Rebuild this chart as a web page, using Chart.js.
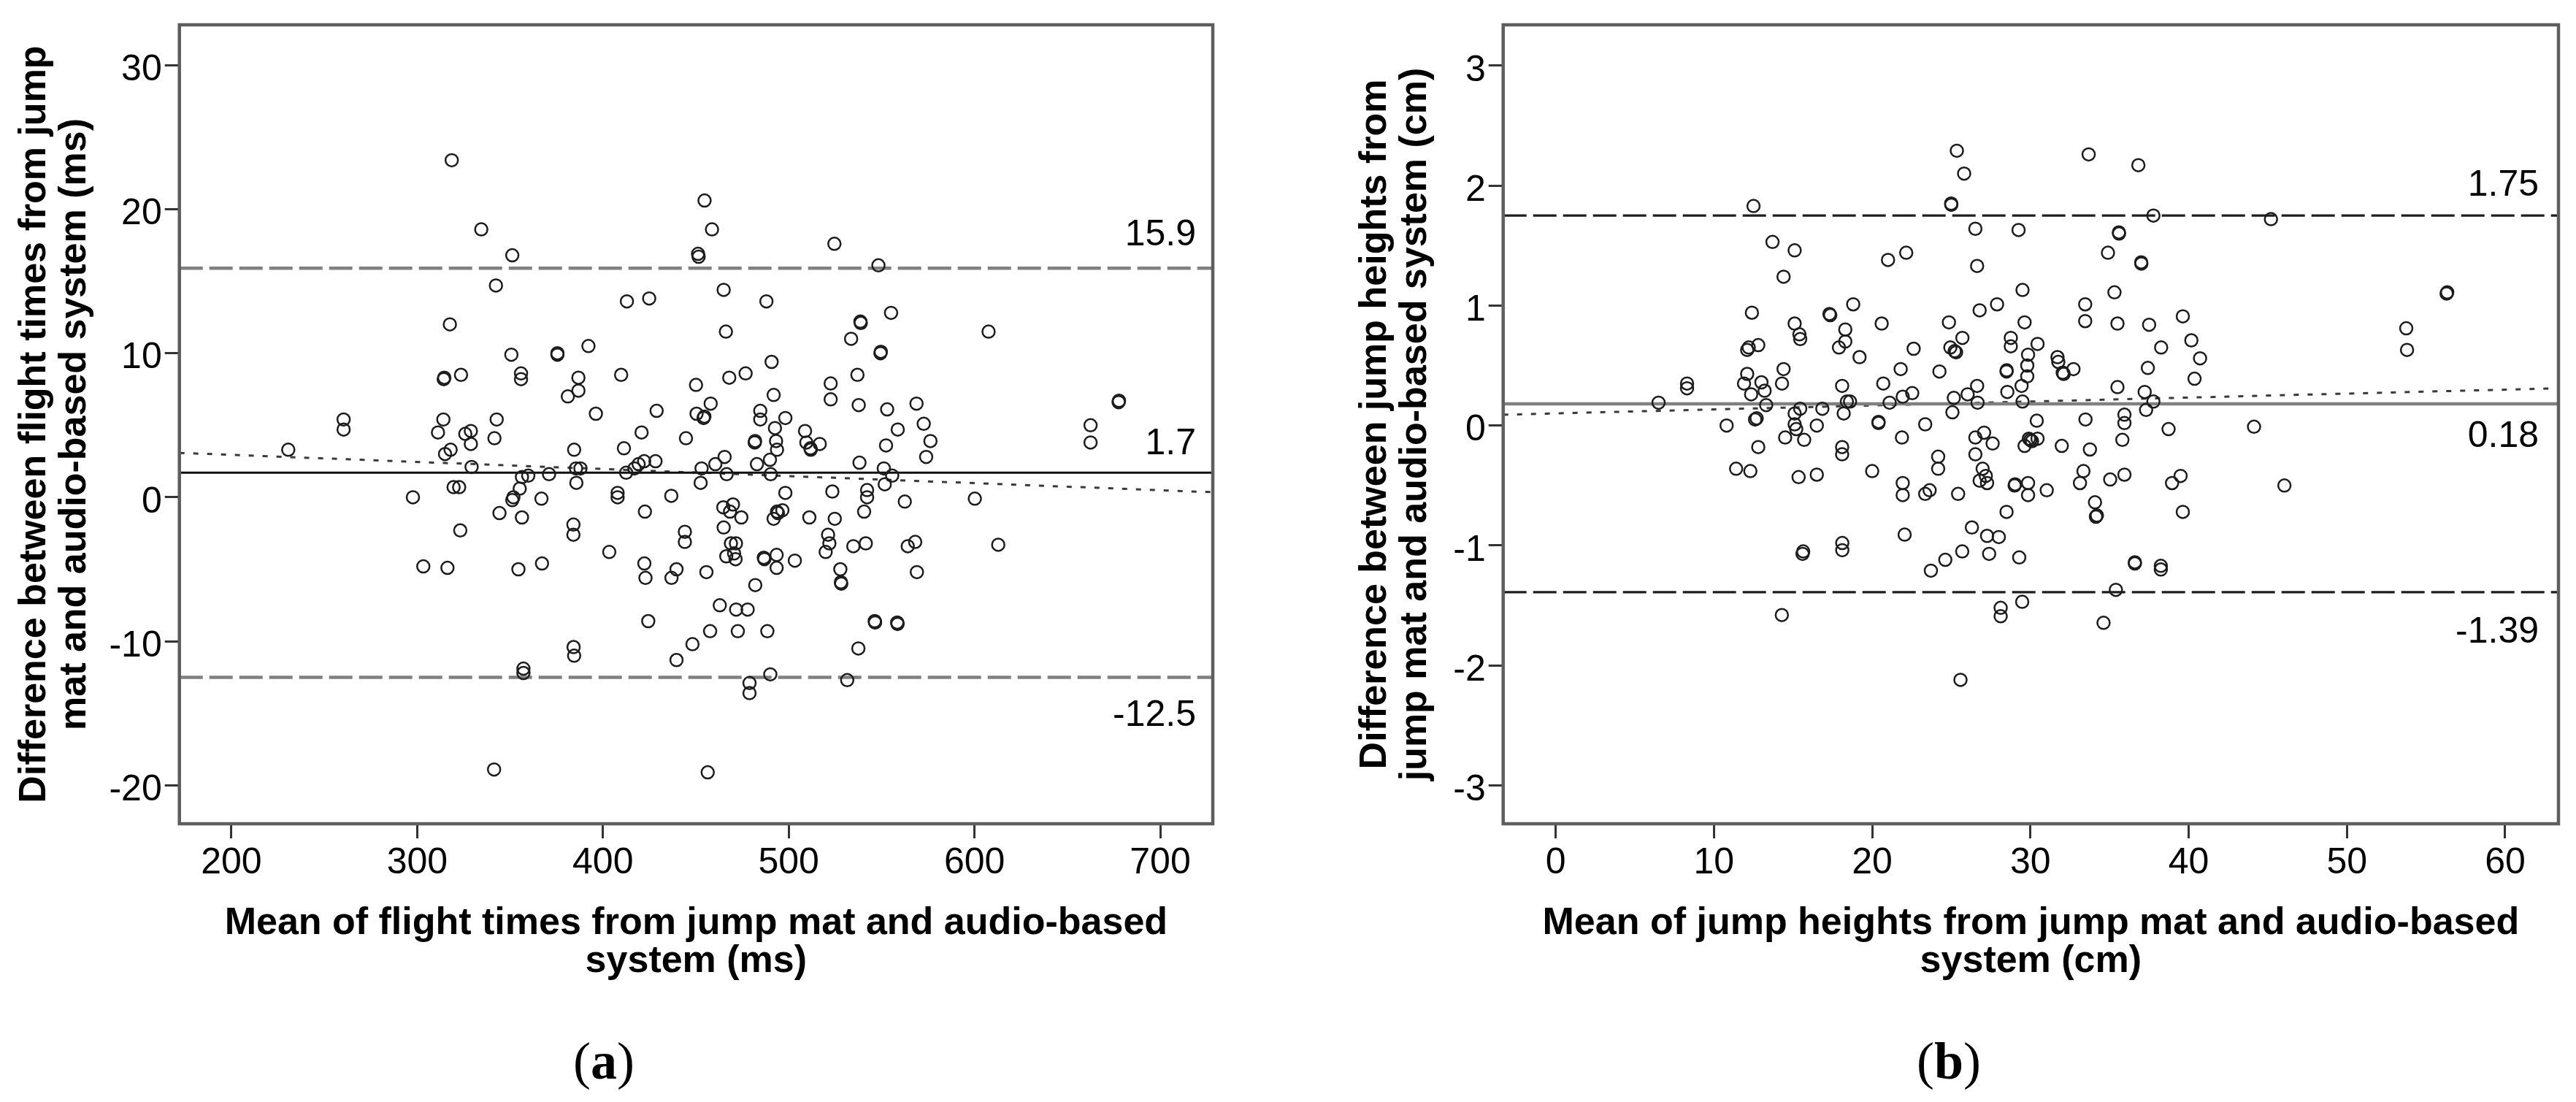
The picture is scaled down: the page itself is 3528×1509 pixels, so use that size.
<!DOCTYPE html>
<html><head><meta charset="utf-8">
<script src="https://cdn.jsdelivr.net/npm/chart.js@4.4.1/dist/chart.umd.min.js"></script>
<style>
html,body{margin:0;padding:0;background:#fff;}
#wrap{position:relative;width:3528px;height:1509px;overflow:hidden;background:#fff;}
canvas{position:absolute;top:0;}
.cap{position:absolute;top:1413px;font-family:"Liberation Serif","DejaVu Serif",serif;font-size:72px;line-height:80px;transform:translateX(-50%);color:#000;white-space:nowrap;}
.cap b{font-weight:bold;}
</style></head><body>
<div id="wrap">
<canvas id="ca" width="1764" height="1509" style="left:0"></canvas>
<canvas id="cb" width="1764" height="1509" style="left:1764px"></canvas>
<div class="cap" style="left:827px">(<b>a</b>)</div>
<div class="cap" style="left:2669px">(<b>b</b>)</div>
</div>
<script>
// ---------- DATA ----------
// (a) flight times: [mean, difference] in ms
const flightPoints = [
[230.6,3.3],[260.4,5.4],[260.4,4.7],[297.7,0.0],[318.6,23.4],[334.5,18.6],[351.2,16.8],[342.4,14.7],[317.6,12.0],[350.7,9.9],[314.6,8.3],[314.3,8.2],[323.6,8.5],[355.9,8.6],[355.9,8.2],[314.1,5.4],[311.2,4.5],[325.9,4.4],[328.9,4.6],[328.9,3.7],[342.8,5.4],[341.6,4.1],[318.0,3.3],[315.0,3.0],[329.3,2.1],[319.6,0.7],[322.6,0.7],[356.4,1.4],[359.8,1.5],[355.2,0.6],[351.8,0.0],[351.2,-0.2],[344.3,-1.1],[356.4,-1.4],[323.2,-2.3],[371.0,1.6],[366.9,-0.1],[375.5,9.9],[375.5,10.0],[386.8,8.3],[386.8,7.4],[381.1,7.0],[384.5,3.3],[387.9,2.0],[385.5,2.0],[385.7,1.0],[384.1,-1.9],[384.1,-2.6],
[392.2,10.5],[396.2,5.8],[454.7,20.6],[458.7,18.6],[451.5,16.7],[451.2,16.9],[524.6,17.6],[548.3,16.1],[465.0,14.4],[412.9,13.6],[424.9,13.8],[488.0,13.6],[466.2,11.5],[538.8,12.1],[538.6,12.2],[555.1,12.8],[533.6,11.0],[607.6,11.5],[549.4,10.0],[549.6,10.1],[490.8,9.4],[409.8,8.5],[468.0,8.3],[476.8,8.6],[537.0,8.5],[450.1,7.8],[522.6,7.9],[522.6,6.8],[491.9,7.1],[428.9,6.0],[458.0,6.5],[450.4,5.8],[454.2,5.5],[454.6,5.6],[484.7,6.0],[484.7,5.4],[498.2,5.5],[537.7,6.4],[553.0,6.1],[568.8,6.5],[420.8,4.5],[444.7,4.1],[492.6,4.8],[493.2,3.9],[493.7,3.3],[481.7,3.8],[481.9,3.9],[508.8,4.6],[509.5,3.8],[511.7,3.4],[511.9,3.3],[516.7,3.7],[558.7,4.7],[572.7,5.1],[576.3,3.9],[552.4,3.6],[574.0,2.8],[411.3,3.4],[419.2,2.3],[422.2,2.5],[428.3,2.5],[417.0,2.0],[412.5,1.7],[465.5,2.8],[460.5,2.3],[453.1,2.0],[466.6,1.6],[482.9,2.3],[489.9,2.6],[490.3,1.6],[538.1,2.4],[551.2,2.0],[555.7,1.5],[551.7,0.9],[452.6,1.0],[407.9,0.3],[407.9,0.0],[436.8,0.1],[498.2,0.3],[523.5,0.4],[542.2,0.5],[542.2,0.0],[562.5,-0.3],[600.2,-0.1],[422.6,-1.0],[464.8,-0.7],[470.0,-0.5],[468.4,-1.0],[474.5,-1.4],[493.7,-1.0],[494.2,-1.1],[496.6,-0.9],[491.9,-1.5],[511.1,-1.4],[524.8,-1.5],[540.6,-1.0],[444.1,-2.4],[444.1,-3.1],[465.0,-2.1],[468.9,-3.2],[471.6,-3.2],[521.2,-2.6],[521.9,-3.2],[534.8,-3.4],[541.5,-3.2],[564.1,-3.4],[568.1,-3.1],[612.8,-3.3],[662.5,5.0],[662.5,3.8],[677.8,6.7],[677.6,6.6],[403.4,-3.8],
[303.3,-4.8],[316.3,-4.9],[354.5,-5.0],[367.2,-4.6],[422.3,-4.6],[422.9,-5.6],[439.6,-5.0],[436.9,-5.6],[455.7,-5.2],[466.4,-4.1],[470.6,-3.9],[471.4,-4.3],[486.6,-4.2],[486.9,-4.3],[493.5,-4.0],[493.5,-4.9],[503.3,-4.4],[482.0,-6.1],[519.9,-3.8],[527.8,-5.0],[528.1,-5.9],[528.3,-6.0],[569.0,-5.2],[462.9,-7.5],[471.7,-7.8],[477.9,-7.8],[424.4,-8.6],[457.7,-9.3],[472.6,-9.3],[488.5,-9.3],[546.3,-8.6],[546.5,-8.7],[558.4,-8.7],[558.6,-8.8],[537.5,-10.5],[448.2,-10.2],[439.6,-11.3],[384.2,-10.4],[384.5,-11.0],[357.2,-11.9],[357.2,-12.2],[490.1,-12.3],[478.9,-12.9],[478.9,-13.6],[531.5,-12.7],[341.4,-18.9],[456.4,-19.1]
];
const flightLimits = [15.9, 1.7, -12.5];      // upper LoA, mean bias, lower LoA
const flightTrendX = [172, 728.3];
const flightTrendY = [3.08, 0.35];
const flightXRange = [172, 728.3];
const flightYRange = [-22.67, 32.8];
const flightXTicks = [200, 300, 400, 500, 600, 700];
const flightYTicks = [-20, -10, 0, 10, 20, 30];

// (b) jump heights: [mean, difference] in cm
const heightPoints = [
[6.5,0.19],[8.3,0.35],[8.3,0.31],[12.5,1.83],[13.7,1.53],[15.1,1.46],[14.4,1.24],[12.4,0.94],[15.1,0.85],[15.4,0.76],[15.45,0.72],[12.1,0.63],[12.2,0.65],[12.8,0.67],[17.3,0.93],[17.35,0.92],[18.8,1.01],[18.3,0.80],[18.3,0.70],[17.9,0.65],[19.2,0.57],[20.6,0.85],[21.0,1.38],[14.4,0.47],[14.3,0.35],[12.1,0.43],[11.9,0.35],[12.35,0.26],[13.0,0.36],[13.2,0.29],[13.3,0.17],[12.6,0.05],[12.7,0.06],[10.8,0.0],[14.5,-0.1],[15.1,0.1],[15.45,0.14],[15.1,0.01],[15.2,-0.03],[15.7,-0.12],[16.5,0.0],[16.85,0.14],[12.8,-0.18],[11.4,-0.36],[12.3,-0.38],[15.35,-0.43],[16.5,-0.41],[18.1,0.33],[18.4,0.2],[18.6,0.2],[18.2,0.1],[18.1,-0.18],[18.1,-0.24],[20.0,-0.38],[20.4,0.02],[20.4,0.03],[20.7,0.35],[21.1,0.19],
[25.35,2.29],[25.81,2.10],[24.99,1.85],[25.0,1.84],[26.52,1.64],[29.25,1.63],[33.68,2.26],[36.82,2.17],[37.77,1.75],[45.2,1.72],[35.59,1.61],[35.6,1.6],[34.9,1.44],[37.01,1.35],[37.0,1.36],[26.63,1.33],[22.15,1.44],[29.5,1.13],[27.89,1.01],[26.79,0.96],[24.85,0.86],[25.7,0.73],[24.94,0.65],[25.21,0.62],[25.3,0.61],[22.62,0.64],[29.63,0.86],[28.76,0.73],[28.76,0.66],[30.45,0.68],[29.85,0.59],[29.8,0.50],[29.8,0.41],[29.44,0.33],[28.49,0.45],[28.5,0.46],[28.54,0.28],[29.5,0.20],[24.25,0.45],[21.8,0.47],[22.53,0.27],[21.93,0.24],[25.16,0.23],[26.03,0.26],[26.63,0.33],[26.66,0.19],[25.07,0.11],[31.71,0.57],[31.76,0.53],[32.04,0.44],[32.1,0.43],[32.72,0.47],[33.46,1.01],[33.46,0.87],[35.31,1.11],[35.5,0.85],[37.5,0.84],[38.26,0.65],[39.63,0.91],[40.17,0.71],[40.72,0.56],[40.37,0.39],[37.42,0.48],[35.5,0.32],[37.22,0.28],[37.77,0.20],[37.31,0.13],[53.75,0.81],[53.8,0.63],[56.34,1.11],[56.3,1.10],[23.35,0.01],[21.88,-0.10],[30.4,0.04],[30.0,-0.12],[30.1,-0.13],[29.9,-0.11],[29.63,-0.17],[30.45,-0.11],[27.07,-0.06],[26.52,-0.10],[27.61,-0.15],[31.98,-0.17],[33.48,0.05],[33.76,-0.20],[35.94,0.09],[35.94,0.02],[35.81,-0.12],[38.73,-0.03],[44.13,-0.01],[24.17,-0.26],[24.17,-0.36],[26.52,-0.24],[26.98,-0.36],[27.18,-0.42],[26.79,-0.46],[27.26,-0.48],[29.03,-0.49],[29.0,-0.5],[29.85,-0.48],[29.85,-0.58],[31.03,-0.54],[33.35,-0.38],[33.13,-0.48],[35.04,-0.45],[35.94,-0.41],[38.95,-0.48],[39.49,-0.42],[46.05,-0.50],[21.93,-0.48],[21.93,-0.58],[23.35,-0.57],[23.63,-0.54],[25.43,-0.57],[28.49,-0.72],[34.08,-0.64],[34.14,-0.76],[34.2,-0.75],[39.63,-0.72],[26.3,-0.85],
[15.64,-1.05],[15.6,-1.07],[18.11,-0.98],[18.11,-1.04],[22.05,-0.91],[23.71,-1.21],[24.62,-1.12],[25.69,-1.05],[27.39,-1.07],[27.26,-0.92],[28.0,-0.93],[29.29,-1.10],[14.29,-1.58],[28.12,-1.52],[28.12,-1.59],[29.48,-1.47],[25.58,-2.12],[36.6,-1.15],[36.6,-1.14],[38.24,-1.17],[38.24,-1.20],[35.4,-1.37],[34.62,-1.645]
];
const heightLimits = [1.75, 0.18, -1.39];
const heightTrendX = [-3.32, 63.37];
const heightTrendY = [0.09, 0.31];
const heightXRange = [-3.32, 63.37];
const heightYRange = [-3.32, 3.34];
const heightXTicks = [0, 10, 20, 30, 40, 50, 60];
const heightYTicks = [-3, -2, -1, 0, 1, 2, 3];

// ---------- STYLE ----------
const FONT = '"Liberation Sans", Arial, Helvetica, sans-serif';

const boxPlugin = {
  id: 'plotBox',
  afterDatasetsDraw(chart) {
    const {ctx, chartArea: a} = chart;
    ctx.save();
    ctx.strokeStyle = '#5e5e5e';
    ctx.lineWidth = 4.5;
    ctx.strokeRect(a.left, a.top, a.right - a.left, a.bottom - a.top);
    ctx.restore();
  }
};

const limitLabelPlugin = {
  id: 'limitLabels',
  afterDraw(chart, args, opts) {
    if (!opts || !opts.values) return;
    const {ctx, chartArea: a, scales} = chart;
    ctx.save();
    ctx.font = '50px ' + FONT;
    ctx.fillStyle = '#000';
    ctx.textAlign = 'right';
    ctx.textBaseline = 'middle';
    opts.values.forEach((v, i) => {
      const y = scales.y.getPixelForValue(v) + opts.dy[i];
      ctx.fillText(String(v), a.right - opts.right, y);
    });
    ctx.restore();
  }
};

function hLine(value, range, color, width, dash) {
  return {
    data: [{x: range[0], y: value}, {x: range[1], y: value}],
    showLine: true, pointRadius: 0, pointHoverRadius: 0,
    borderColor: color, borderWidth: width, borderDash: dash, fill: false
  };
}

function makeChart(id, cfg) {
  const grid = {display: true, drawOnChartArea: false, drawTicks: true, tickLength: 20,
                lineWidth: 3, tickWidth: 3, color: '#333', tickColor: '#333'};
  return new Chart(document.getElementById(id), {
    type: 'scatter',
    data: {
      datasets: [
        {
          data: cfg.points.map(p => ({x: p[0], y: p[1]})),
          pointStyle: 'circle', pointRadius: 8.5, pointHoverRadius: 8.5,
          pointBorderWidth: 2.5, pointBorderColor: '#1c1c1c',
          pointBackgroundColor: 'rgba(0,0,0,0)', showLine: false
        },
        hLine(cfg.limits[0], cfg.xRange, cfg.limitColor, cfg.limitWidth, [32, 9]),
        hLine(cfg.limits[1], cfg.xRange, cfg.meanColor, cfg.meanWidth, []),
        hLine(cfg.limits[2], cfg.xRange, cfg.limitColor, cfg.limitWidth, [32, 9]),
        {
          data: [{x: cfg.trendX[0], y: cfg.trendY[0]}, {x: cfg.trendX[1], y: cfg.trendY[1]}],
          showLine: true, pointRadius: 0, pointHoverRadius: 0,
          borderColor: '#3a3a3a', borderWidth: 3, borderDash: [7, 12], fill: false
        }
      ]
    },
    options: {
      responsive: false, animation: false, devicePixelRatio: 1,
      layout: {padding: {left: 0, top: 33, right: cfg.padRight, bottom: 0}},
      plugins: {
        legend: {display: false}, tooltip: {enabled: false},
        limitLabels: {values: cfg.limits, dy: cfg.labelDy, right: cfg.labelRight}
      },
      scales: {
        x: {
          type: 'linear', position: 'bottom',
          min: cfg.xRange[0], max: cfg.xRange[1],
          afterBuildTicks: s => { s.ticks = cfg.xTicks.map(v => ({value: v})); },
          afterFit: s => { s.height = 381; },
          grid: grid, border: {display: false},
          ticks: {font: {family: FONT, size: 50}, color: '#000', padding: 4.5,
                  maxRotation: 0, autoSkip: false, callback: v => String(v)},
          title: {display: true, text: cfg.xTitle, color: '#000',
                  font: {family: FONT, size: 52, weight: 'bold', lineHeight: 0.994},
                  padding: {top: 0, bottom: 166.5}}
        },
        y: {
          type: 'linear', position: 'left',
          min: cfg.yRange[0], max: cfg.yRange[1],
          afterBuildTicks: s => { s.ticks = cfg.yTicks.map(v => ({value: v})); },
          afterFit: s => { s.width = cfg.leftWidth; },
          grid: grid, border: {display: false},
          ticks: {font: {family: FONT, size: 50}, color: '#000', padding: 4,
                  labelOffset: 7, autoSkip: false, callback: v => String(v)},
          title: {display: true, text: cfg.yTitle, color: '#000',
                  font: {family: FONT, size: 52, weight: 'bold', lineHeight: 55 / 52},
                  padding: {top: cfg.yTitlePad, bottom: 0}}
        }
      }
    },
    plugins: [boxPlugin, limitLabelPlugin]
  });
}

makeChart('ca', {
  points: flightPoints, limits: flightLimits, trendX: flightTrendX, trendY: flightTrendY,
  xRange: flightXRange, yRange: flightYRange, xTicks: flightXTicks, yTicks: flightYTicks,
  xTitle: ['Mean of flight times from jump mat and audio-based', 'system (ms)'],
  yTitle: ['Difference between flight times from jump', 'mat and audio-based system (ms)'],
  limitColor: '#808080', limitWidth: 4.5, meanColor: '#111111', meanWidth: 3,
  padRight: 103, leftWidth: 245.7, yTitlePad: 20.4,
  labelDy: [-45, -39, 53], labelRight: 23
});

makeChart('cb', {
  points: heightPoints, limits: heightLimits, trendX: heightTrendX, trendY: heightTrendY,
  xRange: heightXRange, yRange: heightYRange, xTicks: heightXTicks, yTicks: heightYTicks,
  xTitle: ['Mean of jump heights from jump mat and audio-based', 'system (cm)'],
  yTitle: ['Difference between jump heights from', 'jump mat and audio-based system (cm)'],
  limitColor: '#1e1e1e', limitWidth: 3.3, meanColor: '#808080', meanWidth: 4.5,
  padRight: 24, leftWidth: 294.7, yTitlePad: 92.2,
  labelDy: [-41, 45, 55], labelRight: 27
});
</script>
</body></html>
